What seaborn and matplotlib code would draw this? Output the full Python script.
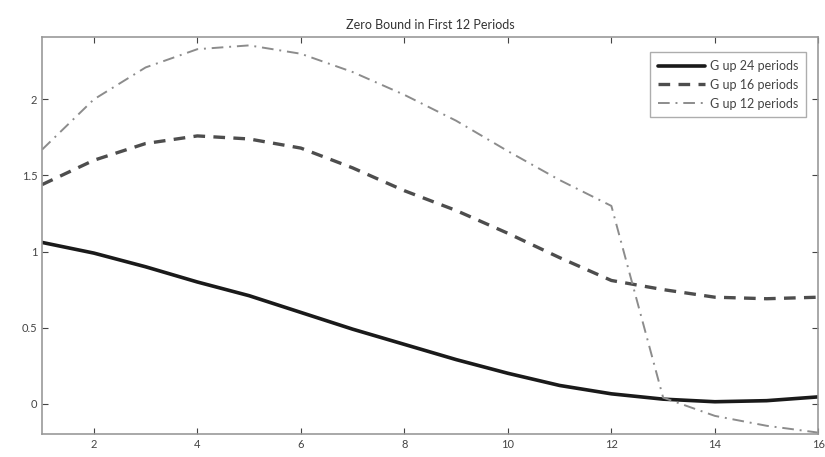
import numpy as np
import pandas as pd
import seaborn as sns
import matplotlib.pyplot as plt

# Periods and responses
periods = list(range(1, 17))
g_up_24 = [1.06, 0.99, 0.90, 0.80, 0.71, 0.60, 0.49, 0.39, 0.29, 0.20, 0.12, 0.065, 0.03, 0.013, 0.02, 0.045]
g_up_16 = [1.44, 1.60, 1.71, 1.76, 1.74, 1.68, 1.55, 1.40, 1.27, 1.12, 0.96, 0.81, 0.75, 0.70, 0.69, 0.70]
g_up_12 = [1.67, 2.00, 2.21, 2.33, 2.355, 2.30, 2.18, 2.03, 1.86, 1.66, 1.47, 1.30, 0.04, -0.08, -0.145, -0.19]

labels = ['G up 24 periods', 'G up 16 periods', 'G up 12 periods']

df = pd.DataFrame({
    'period': periods * 3,
    'value': g_up_24 + g_up_16 + g_up_12,
    'series': [labels[0]] * 16 + [labels[1]] * 16 + [labels[2]] * 16,
})

sns.set_style('white')
plt.rcParams['font.family'] = ['Lato', 'DejaVu Sans']

fig = plt.figure(figsize=(8.25, 4.57), dpi=100)
ax = fig.add_axes([0.051, 0.050, 0.941, 0.869])

styles = {
    labels[0]: dict(color='#1a1a1a', linewidth=2.6, linestyle='-'),
    labels[1]: dict(color='#4d4d4d', linewidth=2.4, linestyle=(0, (3.5, 2.5))),
    labels[2]: dict(color='#8c8c8c', linewidth=1.4, linestyle=(0, (6, 3, 1, 3))),
}

for name in labels:
    sub = df[df['series'] == name]
    sns.lineplot(data=sub, x='period', y='value', ax=ax, label=name, **styles[name])

ax.set_xlim(1, 16)
ax.set_ylim(-0.2, 2.41)
ax.set_xticks([2, 4, 6, 8, 10, 12, 14, 16])
ax.set_yticks([0, 0.5, 1, 1.5, 2])
ax.set_yticklabels(['0', '0.5', '1', '1.5', '2'])
ax.set_xlabel('')
ax.set_ylabel('')
ax.set_title('Zero Bound in First 12 Periods', fontsize=9, color='#333333', pad=6)

ax.tick_params(direction='in', length=4, labelsize=8, colors='#444444',
               top=True, right=True, bottom=True, left=True)
for sp in ax.spines.values():
    sp.set_color('#999999')
    sp.set_linewidth(1.2)

leg = ax.legend(loc='upper right', fontsize=9, frameon=True, fancybox=False,
                handlelength=3.8, handletextpad=0.4, borderpad=0.6,
                labelspacing=0.55, bbox_to_anchor=(0.992, 0.977))
leg.get_frame().set_edgecolor('#999999')
leg.get_frame().set_linewidth(1.0)
for t in leg.get_texts():
    t.set_color('#444444')

fig.savefig('out.png', dpi=100)
